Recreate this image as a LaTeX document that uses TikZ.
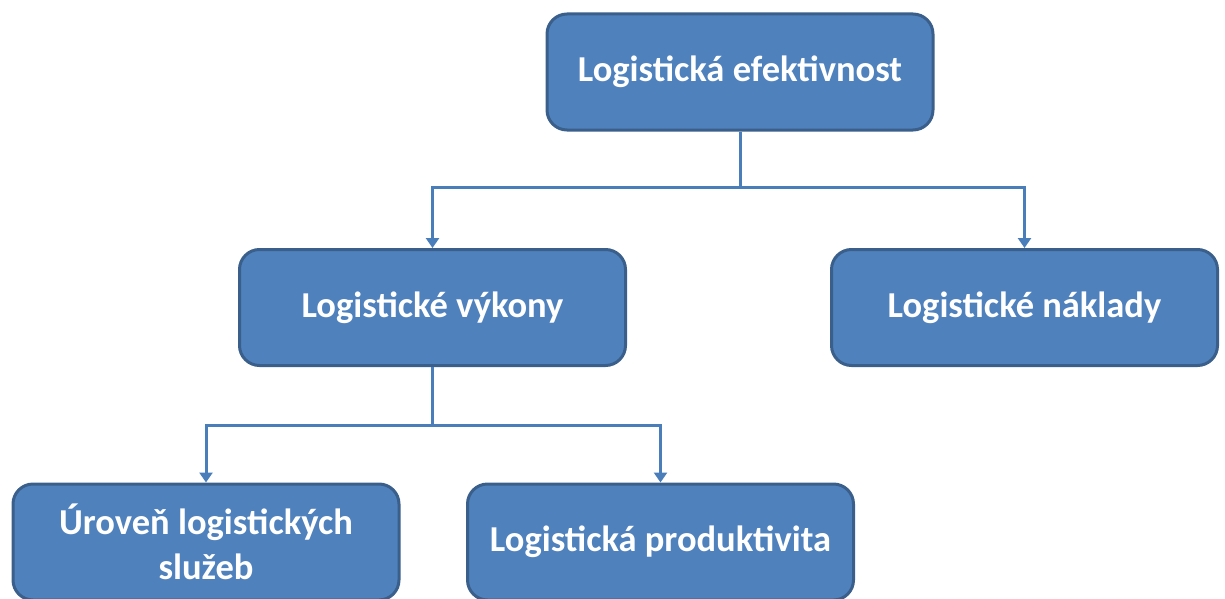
\documentclass[tikz,border=0pt]{standalone}
\usepackage{fontspec}
\setmainfont{Carlito}
\usetikzlibrary{arrows.meta}
\definecolor{boxfill}{HTML}{4F81BD}
\definecolor{boxedge}{HTML}{3A5F8B}
\definecolor{linkcol}{HTML}{4A7EBB}
\begin{document}
\begin{tikzpicture}[x=1pt,y=-1pt,
  block/.style={draw=boxedge, line width=3pt, fill=boxfill, rounded corners=20pt,
    minimum width=386pt, minimum height=116pt, inner sep=0pt,
    text=white, font=\bfseries\fontsize{36.5}{45}\selectfont, align=center},
  link/.style={draw=linkcol, line width=3pt,
    -{Triangle[width=13pt,length=10pt]}}]
\useasboundingbox (0,0) rectangle (1225,599);
\node[block] (eff) at (740,72) {Logistická efektivnost};
\node[block] (vyk) at (432.5,307.5) {Logistické výkony};
\node[block] (nak) at (1024.5,307.5) {Logistické náklady};
\node[block] (uro) at (206,542) {Úroveň logistických\\služeb};
\node[block] (pro) at (660.5,542) {Logistická produktivita};
\coordinate (j1) at (740,187);
\coordinate (j2) at (432.5,425);
\draw[link] (eff.south) -- (j1) -| (vyk.north);
\draw[link] (j1) -| (nak.north);
\draw[link] (vyk.south) -- (j2) -| (uro.north);
\draw[link] (j2) -| (pro.north);
\end{tikzpicture}
\end{document}
